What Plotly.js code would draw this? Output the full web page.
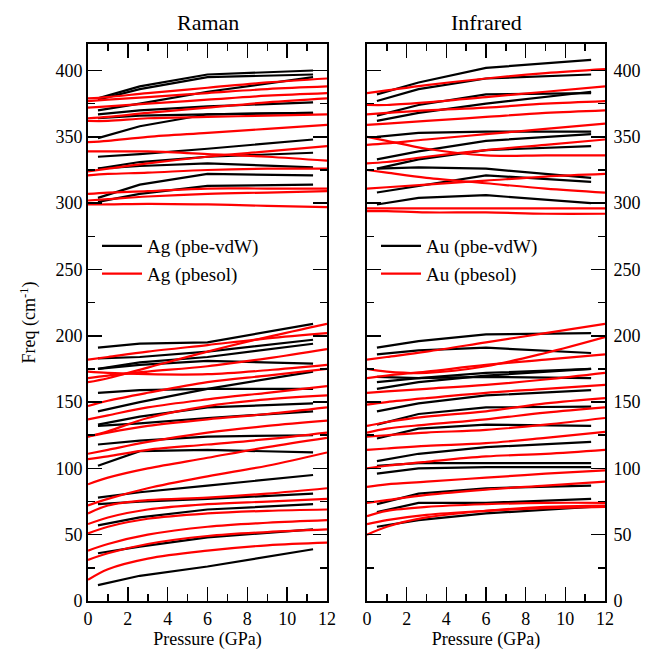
<!DOCTYPE html>
<html>
<head>
<meta charset="utf-8">
<script src="https://cdn.plot.ly/plotly-3.0.1.min.js"></script>
<style>html,body{margin:0;padding:0;background:#fff;}#chart{width:645px;height:650px;}</style>
</head>
<body>
<div id="chart"></div>
<script>
// Pressures (GPa)
const pbePressure = [0.5, 2.6, 6.0, 11.3];
const pbesolPressure = [0, 1, 3, 6, 9, 12];

// Raman, Ag modes, pbe-vdW (cm-1) at pbePressure
const ramanPbe = [
  [379, 388, 397, 400],
  [378, 386, 395, 397],
  [370, 375, 384, 395],
  [367, 370, 373, 376],
  [364, 366, 367, 368],
  [349, 358, 367, 368],
  [335, 337, 341, 348],
  [326, 331, 335, 338],
  [326, 328, 330, 327],
  [304, 314, 322, 321],
  [301, 307, 313, 314],
  [191, 194, 195, 209],
  [183, 184, 188, 197],
  [175, 180, 184, 194],
  [175, 178, 181, 179],
  [157, 159, 160, 160],
  [143, 150, 160, 173],
  [133, 139, 146, 149],
  [132, 134, 138, 143],
  [118, 121, 124, 125],
  [102, 113, 114, 112],
  [78, 82, 87, 95],
  [73, 75, 77, 81],
  [57, 63, 69, 73],
  [36, 41, 48, 54],
  [12, 19, 26, 39]
];

// Raman, Ag modes, pbesol (cm-1) at pbesolPressure
const ramanPbesol = [
  [379, 380, 383, 387, 391, 394],
  [377, 378, 380, 383, 386, 388],
  [372, 373, 375, 378, 381, 383],
  [364, 365, 368, 372, 376, 379],
  [362, 362, 364, 365, 366, 367],
  [346, 347, 350, 353, 356, 359],
  [339, 339, 339, 337, 335, 332],
  [324, 326, 330, 335, 339, 343],
  [321, 322, 323, 325, 326, 326],
  [307, 308, 309, 311, 311, 311],
  [302, 303, 305, 307, 308, 309],
  [299, 299, 299.5, 299, 298, 297],
  [182, 184, 188, 193, 198, 202],
  [173, 172, 171, 171, 174, 178],
  [168, 170, 173, 177, 183, 190],
  [165, 168, 176, 188, 199, 209],
  [147, 151, 157, 165, 170, 175],
  [137, 140, 146, 152, 157, 162],
  [124, 128, 138, 147, 152, 155],
  [124, 127, 132, 137, 141, 146],
  [111, 114, 120, 127, 132, 136],
  [107, 109, 114, 118, 122, 127],
  [88, 93, 100, 108, 116, 123],
  [72, 77, 85, 94, 102, 112],
  [66, 72, 76, 78, 81, 85],
  [58, 63, 69, 73, 75, 77],
  [51, 56, 62, 66, 68, 69],
  [38, 43, 50, 56, 59, 61],
  [31, 36, 43, 49, 52, 54],
  [16, 24, 32, 38, 42, 44]
];

// Infrared, Au modes, pbe-vdW (cm-1) at pbePressure
const irPbe = [
  [382, 391, 402, 408],
  [377, 386, 394, 397],
  [366, 374, 382, 383],
  [362, 368, 375, 384],
  [350, 353, 354, 354],
  [333, 339, 347, 352],
  [326, 333, 340, 343],
  [326, 327, 326, 319],
  [308, 313, 321, 316],
  [299, 304, 306, 300],
  [191, 196, 201, 202],
  [186, 189, 191, 187],
  [169, 168, 169, 168],
  [165, 168, 172, 175],
  [160, 165, 170, 175],
  [143, 149, 155, 159],
  [133, 141, 146, 146.5],
  [122.5, 130, 133, 132],
  [105.5, 111, 116, 120],
  [102, 104, 104, 104],
  [96, 100, 101, 101],
  [73, 81, 85, 87],
  [67, 74, 74, 77],
  [56, 61, 66, 71]
];

// Infrared, Au modes, pbesol (cm-1) at pbesolPressure
const irPbesol = [
  [383, 385, 389, 394, 398, 401],
  [374, 374, 376, 380, 384, 388],
  [367, 368, 370, 372, 375, 377],
  [359, 360, 362, 365, 368, 370],
  [350, 347, 341, 336, 336, 336],
  [344, 345, 348, 352, 356, 360],
  [330, 331, 335, 340, 344, 348],
  [325, 323, 319, 315, 311, 308],
  [311, 312, 314, 317, 320, 322],
  [296, 296, 296, 296, 296, 296],
  [294, 294, 293, 293, 292, 292],
  [182, 184, 188, 195, 202, 209],
  [175, 173, 172, 177, 187, 199],
  [168, 170, 173, 178, 182, 186],
  [157, 158, 160, 163, 167, 172],
  [148, 150, 153, 157, 160, 163],
  [132, 135, 139, 143, 149, 153],
  [127, 130, 133, 137, 142, 146],
  [124, 125, 127, 129, 133, 138],
  [114, 115, 117, 119, 123, 127.5],
  [100, 102, 105, 109, 111, 114],
  [86, 88, 90, 93, 96, 98.5],
  [74, 76, 80, 84, 87, 90],
  [64, 68, 71, 73, 74, 74],
  [58, 61, 65, 68, 70, 71],
  [50, 56, 63, 68, 71, 72]
];

const legendNames = {
  ramanPbe: 'Ag (pbe-vdW)', ramanPbesol: 'Ag (pbesol)',
  irPbe: 'Au (pbe-vdW)', irPbesol: 'Au (pbesol)'
};

function makeTraces(series, xs, color, name, xa, ya, legendId, spline) {
  return series.map((ys, i) => ({
    type: 'scatter', mode: 'lines',
    x: xs, y: ys,
    xaxis: xa, yaxis: ya,
    line: {color: color, width: 2.2, shape: spline ? 'spline' : 'linear', smoothing: 1},
    name: name,
    legendgroup: name,
    legend: legendId,
    showlegend: i === 0,
    hoverinfo: 'skip'
  }));
}

const traces = [].concat(
  makeTraces(ramanPbe, pbePressure, '#000000', legendNames.ramanPbe, 'x', 'y', 'legend', false),
  makeTraces(ramanPbesol, pbesolPressure, '#ff0000', legendNames.ramanPbesol, 'x', 'y', 'legend', true),
  makeTraces(irPbe, pbePressure, '#000000', legendNames.irPbe, 'x2', 'y2', 'legend2', false),
  makeTraces(irPbesol, pbesolPressure, '#ff0000', legendNames.irPbesol, 'x2', 'y2', 'legend2', true)
);

const FONT = 'Liberation Serif, Times New Roman, serif';
const yDom = [1 - 601/650, 1 - 44/650];

function xAxis(domain, anchor) {
  return {
    domain: domain, anchor: anchor, range: [0, 12], dtick: 2, tick0: 0,
    ticks: 'inside', ticklen: 14, tickwidth: 1.5, tickcolor: '#000',
    minor: {dtick: 1, ticks: 'inside', ticklen: 7, tickwidth: 1.5, tickcolor: '#000'},
    showline: true, linewidth: 2, linecolor: '#000', mirror: 'allticks',
    showgrid: false, zeroline: false,
    tickfont: {family: FONT, size: 18, color: '#000'},
    title: {text: 'Pressure (GPa)', font: {family: FONT, size: 18, color: '#000'}, standoff: 0}
  };
}
function yAxis(anchor, side, withTitle, standoff) {
  const ax = {
    domain: yDom, anchor: anchor, side: side, range: [0, 420], dtick: 50, tick0: 0,
    ticks: 'inside', ticklen: 14, tickwidth: 1.5, tickcolor: '#000',
    minor: {dtick: 25, ticks: 'inside', ticklen: 7, tickwidth: 1.5, tickcolor: '#000'},
    showline: true, linewidth: 2, linecolor: '#000', mirror: 'allticks',
    showgrid: false, zeroline: false, ticklabelstandoff: standoff,
    tickfont: {family: FONT, size: 18, color: '#000'}
  };
  if (withTitle) {
    ax.title = {text: 'Freq (cm<sup>-1</sup>)', font: {family: FONT, size: 18, color: '#000'}, standoff: 15};
  }
  return ax;
}

const legendCommon = {
  xanchor: 'left', yanchor: 'top', bgcolor: 'rgba(0,0,0,0)',
  font: {family: FONT, size: 19, color: '#000'}, tracegroupgap: 0, itemwidth: 40
};

const layout = {
  width: 645, height: 650,
  margin: {l: 0, r: 0, t: 0, b: 0},
  paper_bgcolor: '#fff', plot_bgcolor: '#fff',
  font: {family: FONT, size: 17, color: '#000'},
  showlegend: true,
  xaxis: xAxis([88/645, 327/645], 'y'),
  yaxis: yAxis('x', 'left', true, 0),
  xaxis2: xAxis([367/645, 605/645], 'y2'),
  yaxis2: yAxis('x2', 'right', false, 3),
  legend: Object.assign({x: 97/645, y: 1 - 227/650}, legendCommon),
  legend2: Object.assign({x: 376/645, y: 1 - 227/650}, legendCommon),
  annotations: [
    {text: 'Raman', x: (88 + 327) / 2 / 645, y: 1 - 22/650, xref: 'paper', yref: 'paper',
     xanchor: 'center', yanchor: 'middle',
     showarrow: false, font: {family: FONT, size: 22, color: '#000'}},
    {text: 'Infrared', x: (367 + 605) / 2 / 645, y: 1 - 22/650, xref: 'paper', yref: 'paper',
     xanchor: 'center', yanchor: 'middle',
     showarrow: false, font: {family: FONT, size: 22, color: '#000'}}
  ]
};

Plotly.newPlot('chart', traces, layout, {staticPlot: true, displayModeBar: false});
</script>
</body>
</html>
